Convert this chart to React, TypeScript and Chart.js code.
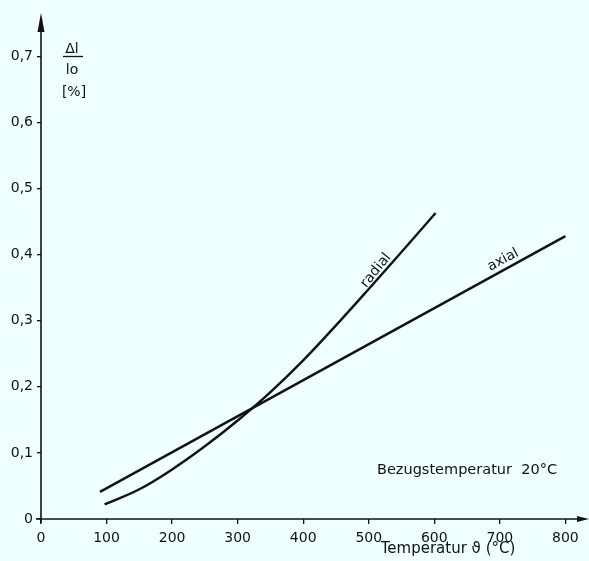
import React, { useEffect, useRef } from "react";
import { Chart, registerables } from "chart.js";

Chart.register(...registerables);

// Temperature (°C) and relative thermal expansion Δl/lo (%)
const radialTemps = [97, 150, 200, 250, 300, 350, 400, 450, 500, 550, 602];
const radialValues = [0.022, 0.045, 0.075, 0.11, 0.149, 0.192, 0.24, 0.293, 0.348, 0.404, 0.463];
const axialTemps = [90, 800];
const axialValues = [0.041, 0.428];

const xTicks = [0, 100, 200, 300, 400, 500, 600, 700, 800];
const yTicks = [0, 0.1, 0.2, 0.3, 0.4, 0.5, 0.6, 0.7];

const X_MAX = 836;
const Y_MAX = 0.7655;

const FONT = "'DejaVu Sans', sans-serif";
const INK = "#111";
const BG = "#F0FFFF";

const fmt = (v: number) => String(Math.round(v * 10) / 10).replace(".", ",");

const decorations = {
  id: "decorations",
  beforeDraw(chart: any) {
    const { ctx } = chart;
    ctx.save();
    ctx.fillStyle = BG;
    ctx.fillRect(0, 0, chart.width, chart.height);
    ctx.restore();
  },
  afterDraw(chart: any) {
    const { ctx, chartArea } = chart;
    const xs = chart.scales.x;
    const ys = chart.scales.y;
    const x0 = xs.getPixelForValue(0);
    const y0 = ys.getPixelForValue(0);

    ctx.save();
    ctx.strokeStyle = INK;
    ctx.fillStyle = INK;
    ctx.lineWidth = 1.6;

    // vertical axis with arrow
    ctx.beginPath();
    ctx.moveTo(x0, y0 + 4);
    ctx.lineTo(x0, chartArea.top + 10);
    ctx.stroke();
    ctx.beginPath();
    ctx.moveTo(x0, chartArea.top);
    ctx.lineTo(x0 - 3.5, chartArea.top + 19);
    ctx.lineTo(x0 + 3.5, chartArea.top + 19);
    ctx.closePath();
    ctx.fill();

    // horizontal axis with arrow
    ctx.beginPath();
    ctx.moveTo(x0 - 5, y0);
    ctx.lineTo(chartArea.right - 8, y0);
    ctx.stroke();
    ctx.beginPath();
    ctx.moveTo(chartArea.right, y0);
    ctx.lineTo(chartArea.right - 12, y0 - 3);
    ctx.lineTo(chartArea.right - 12, y0 + 3);
    ctx.closePath();
    ctx.fill();

    // y-axis quantity Δl / lo [%]
    ctx.textAlign = "center";
    ctx.textBaseline = "middle";
    ctx.font = `14px ${FONT}`;
    ctx.fillText("Δl", 72, 49);
    ctx.lineWidth = 1.3;
    ctx.beginPath();
    ctx.moveTo(63, 56.5);
    ctx.lineTo(83, 56.5);
    ctx.stroke();
    ctx.fillText("lo", 72, 70);
    ctx.fillText("[%]", 74, 92);

    // x-axis title
    ctx.font = `15px ${FONT}`;
    ctx.fillText("Temperatur ϑ (°C)", 448, 549);

    // reference temperature note
    ctx.textAlign = "left";
    ctx.font = `14.5px ${FONT}`;
    ctx.fillText("Bezugstemperatur  20°C", 377, 470);

    // curve labels
    const label = (text: string, vx: number, vy: number, deg: number) => {
      ctx.save();
      ctx.translate(xs.getPixelForValue(vx), ys.getPixelForValue(vy));
      ctx.rotate((deg * Math.PI) / 180);
      ctx.textAlign = "center";
      ctx.textBaseline = "middle";
      ctx.font = `14px ${FONT}`;
      ctx.fillText(text, 0, 0);
      ctx.restore();
    };
    label("radial", 511, 0.376, -51);
    label("axial", 705, 0.392, -28);

    ctx.restore();
  },
};

export default function App() {
  const canvasRef = useRef<HTMLCanvasElement | null>(null);

  useEffect(() => {
    const canvas = canvasRef.current;
    if (!canvas) return;
    const chart = new Chart(canvas, {
      type: "line",
      data: {
        datasets: [
          {
            label: "radial",
            data: radialTemps.map((t, i) => ({ x: t, y: radialValues[i] })),
            borderColor: INK,
            borderWidth: 2.4,
            pointRadius: 0,
            tension: 0.4,
            fill: false,
          },
          {
            label: "axial",
            data: axialTemps.map((t, i) => ({ x: t, y: axialValues[i] })),
            borderColor: INK,
            borderWidth: 2.4,
            pointRadius: 0,
            fill: false,
          },
        ],
      },
      options: {
        animation: false,
        responsive: false,
        devicePixelRatio: 1,
        layout: { padding: { top: 13, left: 0, right: 0, bottom: 0 } },
        plugins: {
          legend: { display: false },
          tooltip: { enabled: false },
        },
        scales: {
          x: {
            type: "linear",
            min: 0,
            max: X_MAX,
            afterFit: (s: any) => {
              s.height = 42;
            },
            afterBuildTicks: (s: any) => {
              s.ticks = xTicks.map((v) => ({ value: v }));
            },
            border: { display: false },
            grid: {
              display: true,
              drawOnChartArea: false,
              drawTicks: true,
              tickLength: 5,
              color: INK,
              lineWidth: 1.3,
            },
            ticks: {
              autoSkip: false,
              maxRotation: 0,
              padding: 6,
              color: INK,
              font: { family: FONT, size: 14 },
              callback: (v: any) => fmt(Number(v)),
            },
          },
          y: {
            type: "linear",
            min: 0,
            max: Y_MAX,
            afterFit: (s: any) => {
              s.width = 41;
            },
            afterBuildTicks: (s: any) => {
              s.ticks = yTicks.map((v) => ({ value: v }));
            },
            border: { display: false },
            grid: {
              display: true,
              drawOnChartArea: false,
              drawTicks: true,
              tickLength: 4,
              color: INK,
              lineWidth: 1.3,
            },
            ticks: {
              autoSkip: false,
              padding: 4,
              color: INK,
              font: { family: FONT, size: 14 },
              callback: (v: any) => fmt(Number(v)),
            },
          },
        },
      },
      plugins: [decorations],
    } as any);
    return () => chart.destroy();
  }, []);

  return (
    <div style={{ position: "fixed", left: 0, top: 0, width: 589, height: 561, background: BG }}>
      <canvas ref={canvasRef} width={589} height={561} style={{ display: "block" }} />
    </div>
  );
}
